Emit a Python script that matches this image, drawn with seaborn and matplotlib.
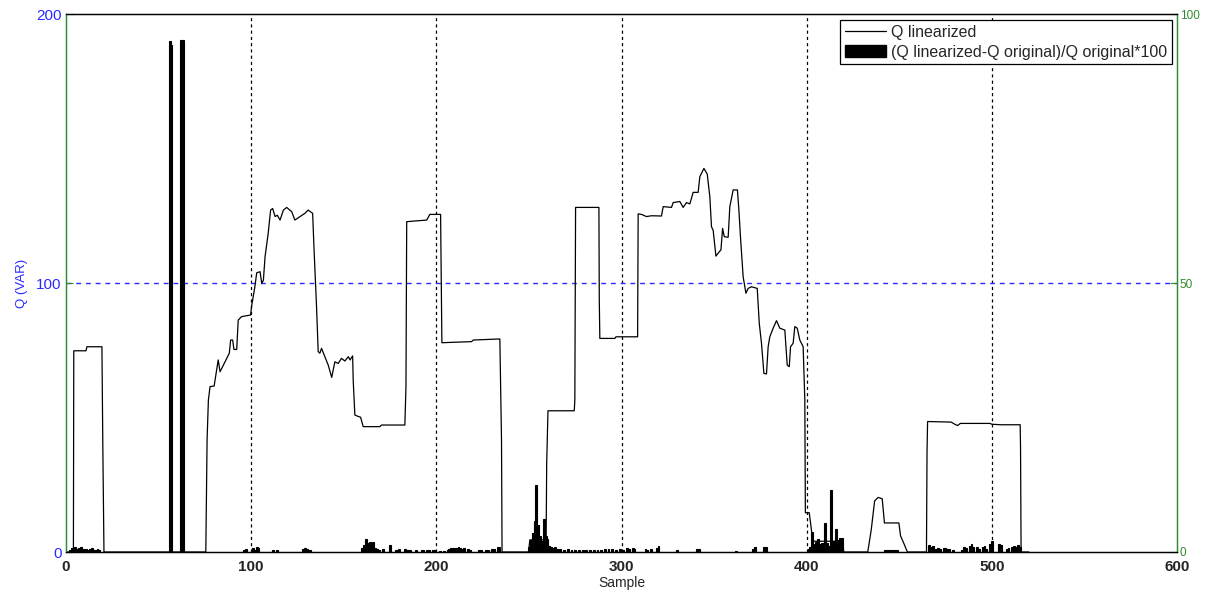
import numpy as np
import pandas as pd
import matplotlib
matplotlib.use('Agg')
import matplotlib.pyplot as plt
from matplotlib.patches import Patch
from matplotlib.lines import Line2D
import seaborn as sns

# Q linearized (left axis, VAR) - breakpoints
q_x = [0, 4, 4.2, 10.8, 11.3, 19.4, 19.9, 20.5,
       75.5, 76.2, 76.9, 77.8, 80, 82.2, 83.2, 88.2, 88.9, 90, 90.7, 92.2, 93, 94.8, 99.7, 100.2,
       102, 103, 104.8, 105.7, 106.6, 107.5, 109.2, 110.5, 111.6, 112.9, 114.1, 115.6, 117.4, 119.2,
       121.9, 123.6, 126.4, 129, 130.8, 133.2, 133.9, 135.3, 136.2, 137.1, 138, 139.8, 141.6, 143.5,
       145.2, 147, 148.8, 150.6, 152.5, 153.4, 154.8, 155.1, 156, 157.8, 159.1, 160.5, 169.5, 170.4,
       183, 183.6, 184, 194.8, 196.5, 202.3, 203, 219, 220, 234.3, 235.2, 235.5,
       249.8, 250.5, 259.3, 259.6, 260.3, 274.5, 274.8, 275.2, 287.8, 288, 288.3, 296.4, 297, 308.7,
       309, 310.8, 313.5, 316.2, 321.6, 322.5, 327, 327.9, 331.5, 333.3, 335.1, 336.9, 338.7, 341.4,
       342.3, 344.5, 346.3, 347.7, 348.6, 349.5, 351, 352.8, 353.7, 354.6, 355.5, 357.6, 358.5, 360.3,
       362.6, 363.4, 364.3, 365.7, 367.2, 368.4, 370.2, 373.3, 374.4, 375.6, 376.9, 378.3, 379.2,
       380.1, 381.9, 383.7, 385.5, 388.2, 389.5, 390.6, 391.3, 392.7, 393.6, 394.9, 396.3, 398.1,
       399, 399.3, 401.4, 402.6, 403, 419.5, 420,
       433, 434.9, 436.7, 438.6, 440.8, 442, 449.8, 450.7, 452.6, 454.4,
       464.7, 465, 465.3, 478, 480, 481.5, 483, 499, 500, 505, 515.3, 515.5, 515.8, 520]
q_y = [0, 0, 74.8, 74.8, 76.3, 76.3, 38.5, 0,
       0, 42, 56.5, 61.5, 61.7, 71.4, 67, 73.9, 78.8, 78.8, 75.3, 75.3, 86.2, 87.5, 88.1, 91.2,
       98.6, 103.8, 104.2, 99.9, 101, 109.8, 118.5, 127.1, 127.7, 124.7, 125.2, 123.4, 127.1, 128.1,
       126.5, 123.4, 124.7, 125.9, 127.1, 125.9, 113.5, 91.2, 74.5, 73.9, 75.7, 72.6, 69.5, 64.9,
       70.7, 70.1, 72, 71, 72.6, 71.4, 72.9, 63.9, 50.9, 50.4, 50.1, 46.6, 46.6, 47.2,
       47.2, 61.5, 122.8, 123.4, 125.5, 125.5, 77.8, 78.2, 78.8, 79.2, 41.6, 0,
       0, 4.5, 4.5, 33, 52.5, 52.5, 56.5, 128.1, 128.1, 93.7, 79.4, 79.4, 80, 80,
       125.7, 125.5, 124.7, 125, 124.9, 128.4, 128.1, 129.9, 130.3, 128.1, 129.9, 129.4, 133.7, 133.7,
       139.5, 142.6, 140.5, 132.1, 120.9, 119.6, 110, 111.6, 112.3, 120.3, 117.2, 117, 128.4, 134.6,
       134.6, 127.1, 116.6, 102.3, 96.2, 98, 98.6, 98, 85, 77.6, 66.4, 66.2, 76.3,
       80, 83.2, 86, 83.2, 82.5, 69.5, 68.9, 76.3, 77.6, 83.8, 83.2, 78.8, 76.3,
       56.5, 14.6, 14.6, 8, 4, 4, 0,
       0, 8.4, 19, 20.3, 19.8, 10.8, 10.8, 6, 3, 0,
       0, 37, 48.5, 48.3, 47.5, 47, 47.8, 47.8, 47.5, 47.3, 47.3, 39, 0, 0]

# relative error in % (right axis) - only non-zero samples
err_x = [2, 3, 4, 5, 6, 7, 8, 9, 10, 11, 12, 13, 14, 15, 16, 17, 18,
         56, 57, 62, 63,
         96, 97, 101, 102, 103, 104, 112, 114, 128, 129, 130, 132,
         160, 161, 162, 163, 164, 165, 166, 167, 168, 169, 171, 175, 178, 180, 183, 184, 185, 186,
         189, 192, 193, 195, 196, 198, 199, 202, 204, 206, 207, 208, 209, 210, 211, 212, 213, 214,
         215, 217, 218, 223, 224, 227, 228, 230, 231, 233, 234,
         250, 251, 252, 253, 254, 255, 256, 257, 258, 259, 260, 261, 262, 263, 264,
         265, 267, 269, 271, 273, 275, 277, 279, 281, 283, 285, 287, 289, 291, 293, 295, 297, 299,
         301, 303, 304, 306, 307, 313, 314, 316, 319, 320, 330, 341, 342, 362, 371, 372, 377, 378,
         401, 402, 403, 404, 405, 406, 407, 408, 409, 410, 411, 412, 413, 414, 415, 416, 417, 418, 419,
         442, 443, 444, 445, 446, 447, 448, 449,
         466, 467, 468, 470, 471, 472, 474, 475, 476, 477, 479, 484, 485, 486, 488, 489, 490, 492,
         493, 495, 496, 497, 499, 500, 504, 505, 508, 509, 511, 512, 513, 514, 515]
err_y = [0.4, 0.8, 0.6, 0.9, 0.5, 0.7, 0.9, 0.6, 0.4, 0.5, 0.3, 0.6, 0.7, 0.4, 0.3, 0.5, 0.3,
         94.9, 94.2, 95.1, 95.1,
         0.4, 0.5, 0.7, 0.4, 1.0, 0.8, 0.3, 0.4, 0.6, 0.8, 0.5, 0.4,
         0.8, 1.3, 2.4, 1.7, 1.9, 1.4, 1.8, 0.8, 0.5, 0.4, 0.5, 1.3, 0.3, 0.5, 0.5, 0.4, 0.4, 0.3,
         0.3, 0.3, 0.4, 0.4, 0.3, 0.4, 0.4, 0.2, 0.2, 0.3, 0.6, 0.7, 0.8, 0.7, 0.8, 0.9, 0.7, 0.6,
         0.7, 0.5, 0.4, 0.3, 0.3, 0.4, 0.3, 0.6, 0.5, 1.0, 0.9,
         1.0, 2.2, 3.5, 5.8, 12.5, 5.0, 3.0, 2.0, 6.1, 3.0, 2.5, 1.2, 1.0, 0.8, 0.9,
         0.6, 0.5, 0.4, 0.5, 0.4, 0.3, 0.4, 0.3, 0.3, 0.4, 0.3, 0.4, 0.3, 0.5, 0.6, 0.5, 0.3, 0.6,
         0.4, 0.8, 0.6, 0.7, 0.5, 0.5, 0.4, 0.6, 0.8, 1.1, 0.4, 0.6, 0.5, 0.2, 0.5, 0.9, 1.0, 0.9,
         0.5, 1.0, 3.8, 1.5, 1.9, 2.5, 1.4, 1.6, 1.7, 5.4, 1.7, 1.2, 11.5, 2.0, 1.5, 4.2, 2.2, 2.6, 2.6,
         0.3, 0.3, 0.3, 0.3, 0.3, 0.3, 0.3, 0.3,
         1.3, 1.0, 1.2, 0.6, 0.8, 0.5, 0.7, 0.8, 0.5, 0.6, 0.3, 0.4, 0.9, 0.7, 1.1, 1.5, 1.0, 0.9,
         0.6, 1.0, 1.2, 0.5, 1.4, 2.1, 1.5, 1.3, 0.5, 0.8, 1.0, 1.2, 0.9, 1.3, 1.0]

x_ticks = [0, 100, 200, 300, 400, 500, 600]
left_ticks = [0, 100, 200]
right_ticks = [0, 50, 100]

BLUE = '#2b2bff'
GREEN = '#2e8b2e'

sns.set_theme(style='white')
plt.rcParams['font.family'] = ['Liberation Sans', 'DejaVu Sans']

fig = plt.figure(figsize=(12.16, 5.98), dpi=100)
ax1 = fig.add_axes([66 / 1216, 1 - 552 / 598, 1111 / 1216, 538 / 598])
ax2 = ax1.twinx()

# reference lines
for xv in x_ticks[1:-1]:
    ax1.axvline(xv, color='black', linestyle=(0, (2.5, 2.5)), linewidth=0.9, zorder=0)
ax1.axhline(left_ticks[1], color=BLUE, linestyle=(0, (3.5, 3.5)), linewidth=1.0, zorder=0)

line_df = pd.DataFrame({'Sample': q_x, 'Q': q_y})
sns.lineplot(data=line_df, x='Sample', y='Q', ax=ax1, color='black', linewidth=0.9,
             estimator=None, sort=False)

ax2.bar(err_x, err_y, width=1.0, color='black', edgecolor='black', linewidth=0.8)

ax1.set_xlim(0, 600)
ax1.set_ylim(0, 200)
ax2.set_ylim(0, 100)
ax1.set_xticks(x_ticks)
ax1.set_yticks(left_ticks)
ax2.set_yticks(right_ticks)

ax1.set_xticklabels([str(t) for t in x_ticks], fontsize=11, fontweight='bold')
ax1.set_yticklabels([str(t) for t in left_ticks], fontsize=11, color=BLUE)
ax2.set_yticklabels([str(t) for t in right_ticks], fontsize=8.5, color=GREEN)

ax1.set_xlabel('Sample', fontsize=10, labelpad=1)
ax1.set_ylabel('Q (VAR)', fontsize=9.5, color=BLUE, labelpad=6)

ax1.tick_params(axis='x', direction='in', length=4, width=0.8, color='black', pad=6)
ax1.tick_params(axis='y', direction='in', length=5, width=0.8, color=GREEN, pad=3)
ax2.tick_params(axis='y', direction='in', length=5, width=0.8, color=GREEN, pad=2)

for ax in (ax1, ax2):
    for side in ('top', 'bottom'):
        ax.spines[side].set_color('black')
        ax.spines[side].set_linewidth(0.9)
    ax.spines['left'].set_color(GREEN)
    ax.spines['right'].set_color(GREEN)
    ax.spines['left'].set_linewidth(0.9)
    ax.spines['right'].set_linewidth(0.9)
    ax.grid(False)

handles = [Line2D([0], [0], color='black', linewidth=0.9),
           Patch(facecolor='black', edgecolor='black')]
labels = ['Q linearized', '(Q linearized-Q original)/Q original*100']
leg = ax2.legend(handles, labels, loc='upper right', bbox_to_anchor=(0.9955, 0.989),
                 borderaxespad=0, fontsize=11.5, frameon=True, fancybox=False, framealpha=1,
                 edgecolor='black', handlelength=2.6, handleheight=0.85, labelspacing=0.3,
                 borderpad=0.3, handletextpad=0.3)
leg.get_frame().set_linewidth(0.9)

fig.savefig('out.png', dpi=100)
